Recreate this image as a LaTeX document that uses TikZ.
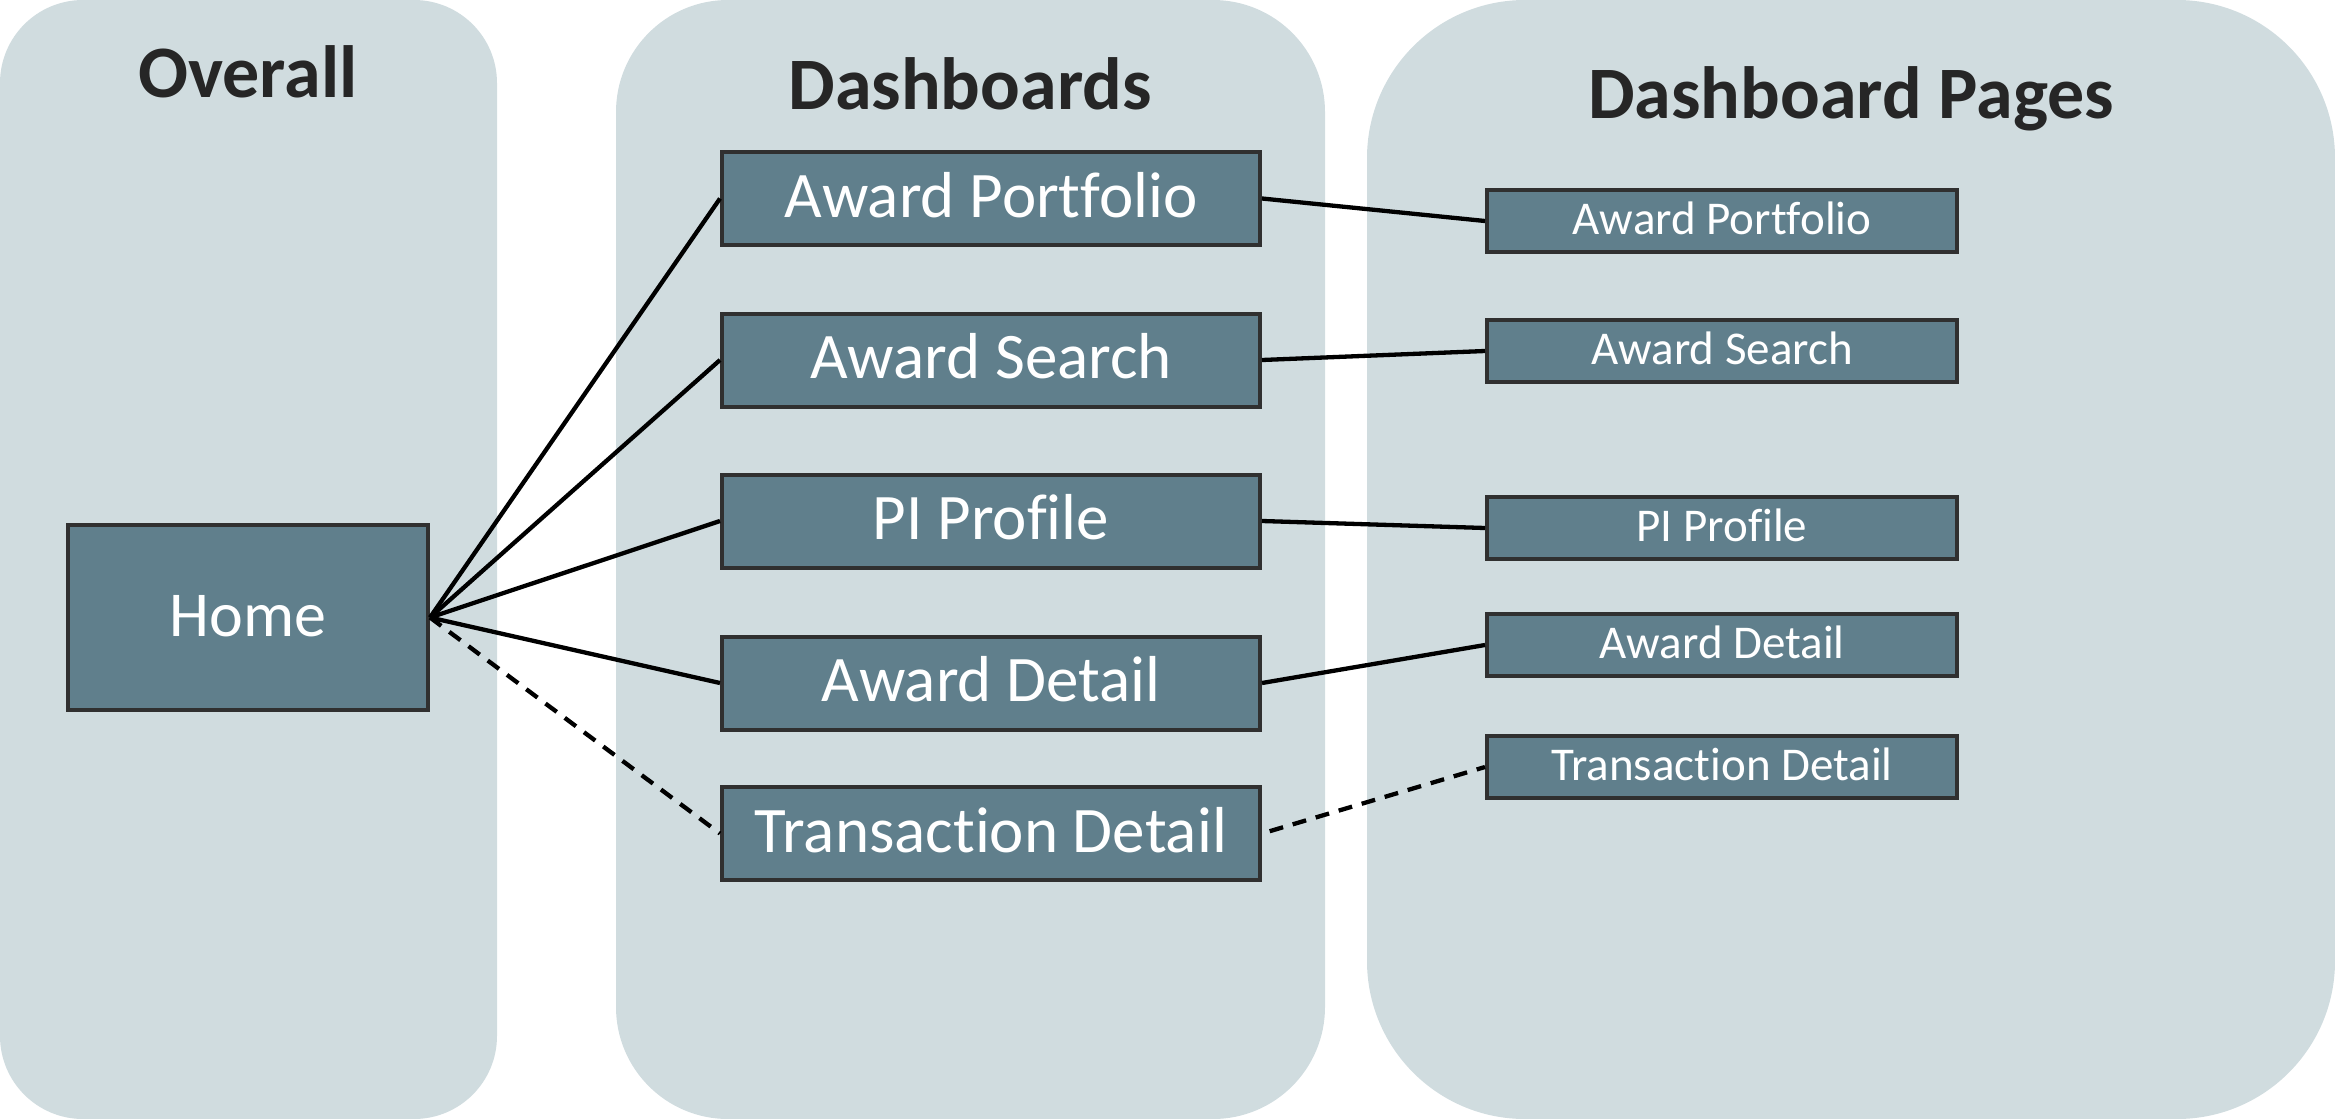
\documentclass[tikz,border=0pt]{standalone}
\usepackage{fontspec}
\setmainfont{Carlito}[Ligatures=NoCommon]
\definecolor{panelbg}{HTML}{D0DCDF}
\definecolor{boxfill}{HTML}{607F8C}
\definecolor{boxline}{HTML}{303030}
\definecolor{headtxt}{HTML}{262626}
\begin{document}
\begin{tikzpicture}[x=1pt,y=-1pt,
  panel/.style={fill=panelbg},
  head/.style={anchor=base, text=headtxt, inner sep=0pt, font=\fontsize{74}{80}\selectfont\bfseries},
  boxbase/.style={draw=boxline, line width=4pt, fill=boxfill, text=white, inner sep=0pt},
  dashbox/.style={boxbase, minimum width=538pt, minimum height=93pt, font=\fontsize{65}{70}\selectfont, text height=40pt, text depth=3pt},
  pagebox/.style={boxbase, minimum width=470pt, minimum height=62pt, font=\fontsize{47}{52}\selectfont, text height=29pt, text depth=2pt},
  homebox/.style={boxbase, minimum width=360pt, minimum height=185pt, font=\fontsize{64}{70}\selectfont, text height=40pt, text depth=3pt},
  link/.style={line width=4.3pt, draw=black},
  dlink/.style={link, dash pattern=on 14pt off 10pt}]
\useasboundingbox (0,0) rectangle (2335,1119);
% panels
\fill[panel, rounded corners=83pt] (0,0) rectangle (497,1119);
\fill[panel, rounded corners=112pt] (616,0) rectangle (1325,1119);
\fill[panel, rounded corners=158pt] (1367,0) rectangle (2335,1119);
% headers
\node[head] (h1) at (248,97) {Overall};
\node[head] (h2) at (970,109) {Dashboards};
\node[head] (h3) at (1851,118) {Dashboard Pages};
% home
\node[homebox] (home) at (248,617.5) {Home};
% dashboards
\node[dashbox] (d1) at (991,198.5) {Award Portfolio};
\node[dashbox] (d2) at (991,360) {Award Search};
\node[dashbox] (d3) at (991,521) {PI Profile};
\node[dashbox] (d4) at (991,683) {Award Detail};
\node[dashbox] (d5) at (991,833.5) {Transaction Detail};
% pages
\node[pagebox] (p1) at (1722,221) {Award Portfolio};
\node[pagebox] (p2) at (1722,351) {Award Search};
\node[pagebox] (p3) at (1722,528) {PI Profile};
\node[pagebox] (p4) at (1722,645) {Award Detail};
\node[pagebox] (p5) at (1722,767) {Transaction Detail};
% connectors
\draw[link] (home.east) -- (d1.west);
\draw[link] (home.east) -- (d2.west);
\draw[link] (home.east) -- (d3.west);
\draw[link] (home.east) -- (d4.west);
\draw[dlink] (home.east) -- (d5.west);
\draw[link] (d1.east) -- (p1.west);
\draw[link] (d2.east) -- (p2.west);
\draw[link] (d3.east) -- (p3.west);
\draw[link] (d4.east) -- (p4.west);
\draw[dlink, shorten <=8pt] (d5.east) -- (p5.west);
\end{tikzpicture}
\end{document}
